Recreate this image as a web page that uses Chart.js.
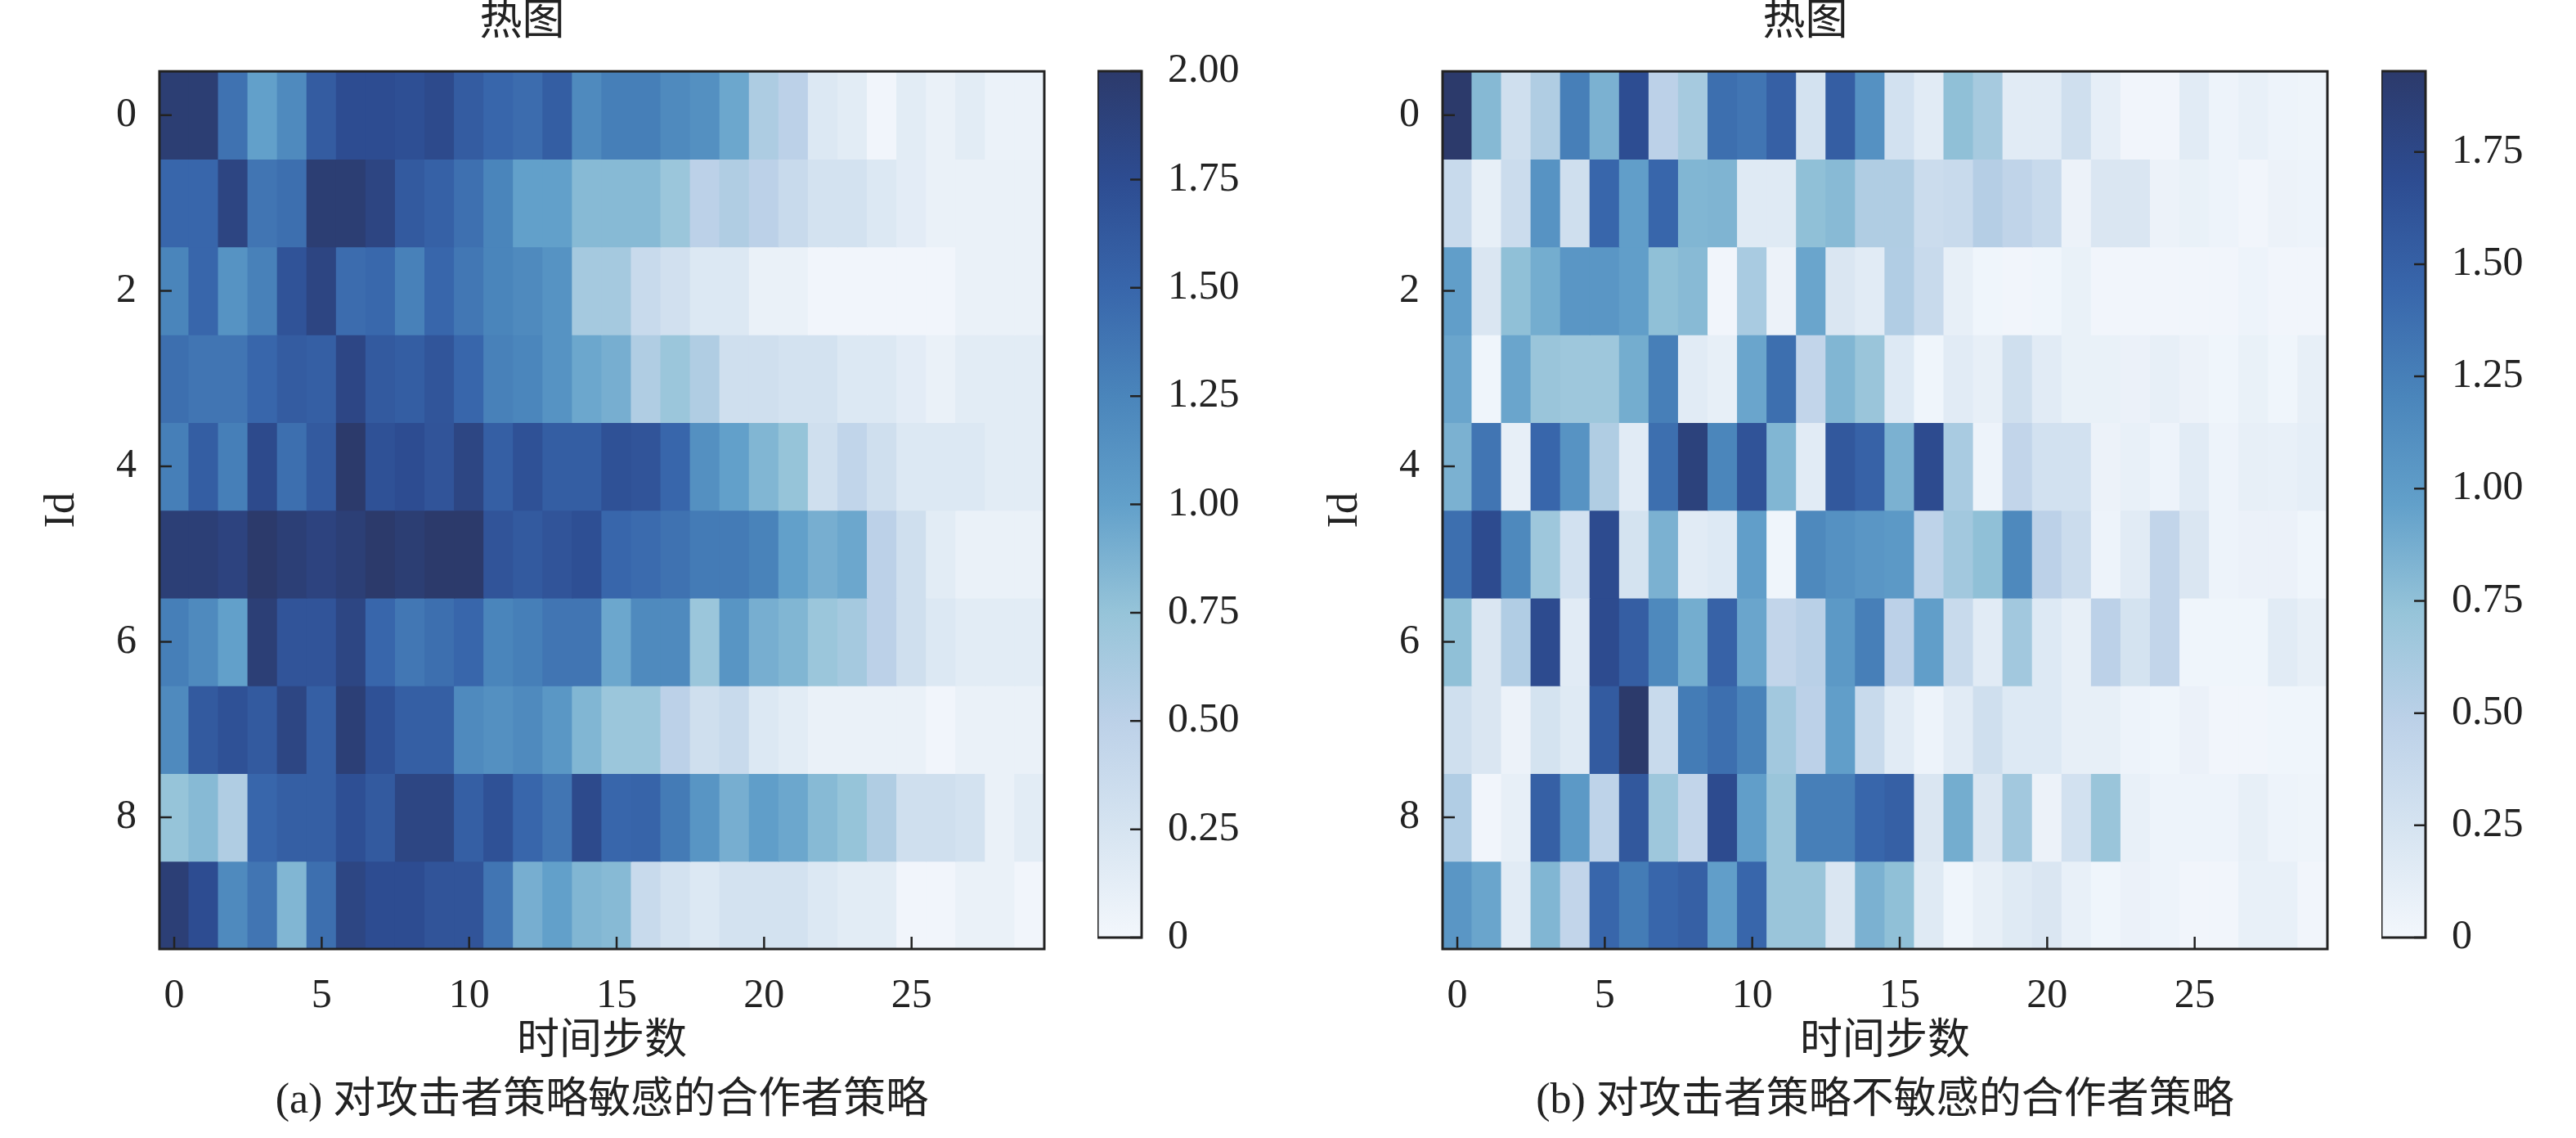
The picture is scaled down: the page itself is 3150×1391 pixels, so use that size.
<!DOCTYPE html>
<html lang="zh">
<head>
    <meta charset="UTF-8">
    <title>热图</title>
    <script src="https://cdn.jsdelivr.net/npm/chart.js"></script>
    <style>
        body { margin: 0; background: #fff; width: 3150px; height: 1391px; position: relative; overflow: hidden; }
        .box { position: absolute; }
        .caption {
            position: absolute; transform: translate(-50%, -50%); white-space: nowrap;
            font-family: "Liberation Serif", "Noto Sans CJK SC", serif; font-size: 52px; color: #222;
        }
    </style>
</head>
<body>
    <!-- (a) sensitive -->
    <div class="box" style="left:0px; top:0px; width:1290px; height:1306px;"><canvas id="heatA"></canvas></div>
    <div class="box" style="left:1342px; top:0px; width:200px; height:1200px;"><canvas id="barA"></canvas></div>
    <div class="caption" style="left:736px; top:1337px;">(a) 对攻击者策略敏感的合作者策略</div>

    <!-- (b) insensitive -->
    <div class="box" style="left:1569px; top:0px; width:1290px; height:1306px;"><canvas id="heatB"></canvas></div>
    <div class="box" style="left:2912px; top:0px; width:200px; height:1200px;"><canvas id="barB"></canvas></div>
    <div class="caption" style="left:2305px; top:1337px;">(b) 对攻击者策略不敏感的合作者策略</div>

    <script>
        // tick labels
        let xTicks = [0, 5, 10, 15, 20, 25];
        let yTicks = [0, 2, 4, 6, 8];
        let barTicksA = [0, 0.25, 0.5, 0.75, 1, 1.25, 1.5, 1.75, 2];
        let barTicksB = [0, 0.25, 0.5, 0.75, 1, 1.25, 1.5, 1.75];
        let vmaxA = 2.0;
        let vmaxB = 1.93;

        // (a) rows = Id 0..9, columns = time step 0..29
        let sensitive = [
            [1.95,1.95,1.40,1.00,1.20,1.60,1.75,1.75,1.72,1.78,1.60,1.50,1.45,1.58,1.20,1.30,1.30,1.20,1.15,0.95,0.60,0.50,0.20,0.15,0.02,0.15,0.08,0.15,0.07,0.07],
            [1.50,1.50,1.85,1.38,1.43,1.95,1.95,1.85,1.62,1.55,1.42,1.25,1.00,1.00,0.82,0.82,0.82,0.72,0.50,0.58,0.50,0.38,0.28,0.28,0.20,0.14,0.08,0.08,0.08,0.08],
            [1.25,1.50,1.12,1.28,1.68,1.85,1.45,1.48,1.28,1.50,1.36,1.25,1.20,1.12,0.65,0.65,0.38,0.30,0.20,0.20,0.08,0.08,0.02,0.02,0.02,0.02,0.02,0.08,0.08,0.08],
            [1.43,1.38,1.38,1.50,1.60,1.57,1.83,1.62,1.58,1.66,1.50,1.28,1.24,1.12,0.95,0.90,0.58,0.72,0.58,0.32,0.32,0.28,0.28,0.20,0.20,0.14,0.08,0.15,0.15,0.15],
            [1.30,1.58,1.30,1.78,1.43,1.62,2.00,1.70,1.75,1.67,1.84,1.57,1.70,1.58,1.58,1.70,1.67,1.50,1.15,1.00,0.85,0.75,0.32,0.45,0.32,0.20,0.20,0.20,0.15,0.15],
            [1.93,1.93,1.87,2.00,1.93,1.87,1.93,2.00,1.95,2.00,2.00,1.67,1.62,1.67,1.72,1.50,1.46,1.40,1.33,1.33,1.27,1.00,0.90,0.95,0.50,0.32,0.15,0.08,0.08,0.08],
            [1.30,1.20,1.00,1.93,1.67,1.67,1.84,1.50,1.36,1.43,1.50,1.25,1.30,1.38,1.38,0.95,1.20,1.20,0.72,1.10,0.90,0.85,0.72,0.65,0.50,0.32,0.20,0.15,0.15,0.15],
            [1.20,1.62,1.70,1.62,1.84,1.57,1.93,1.70,1.57,1.57,1.20,1.15,1.20,1.08,0.85,0.72,0.72,0.50,0.32,0.38,0.20,0.15,0.08,0.08,0.08,0.08,0.02,0.08,0.08,0.08],
            [0.75,0.82,0.58,1.50,1.57,1.57,1.72,1.62,1.84,1.84,1.57,1.70,1.50,1.38,1.78,1.50,1.52,1.33,1.10,0.90,1.02,0.95,0.82,0.75,0.58,0.32,0.32,0.28,0.08,0.15],
            [1.93,1.75,1.20,1.38,0.85,1.43,1.84,1.75,1.75,1.67,1.67,1.38,0.90,1.00,0.85,0.82,0.38,0.28,0.20,0.28,0.28,0.28,0.20,0.15,0.15,0.02,0.02,0.08,0.08,0.02]
        ];

        // (b) rows = Id 0..9, columns = time step 0..29
        let insensitive = [
            [1.93,0.80,0.31,0.56,1.25,0.85,1.68,0.48,0.62,1.38,1.33,1.50,0.27,1.52,1.10,0.28,0.15,0.75,0.62,0.15,0.15,0.31,0.11,0.02,0.02,0.15,0.05,0.09,0.05,0.04],
            [0.37,0.10,0.34,1.08,0.31,1.45,0.98,1.45,0.82,0.83,0.17,0.17,0.75,0.79,0.56,0.56,0.34,0.37,0.53,0.45,0.37,0.06,0.21,0.21,0.06,0.08,0.05,0.02,0.06,0.05],
            [0.98,0.21,0.75,0.88,1.05,1.05,0.98,0.75,0.79,0.02,0.60,0.06,0.93,0.21,0.15,0.55,0.37,0.10,0.03,0.02,0.03,0.08,0.02,0.02,0.02,0.02,0.02,0.05,0.02,0.02],
            [0.93,0.03,0.93,0.70,0.67,0.67,0.88,1.25,0.15,0.10,0.93,1.38,0.43,0.82,0.70,0.18,0.03,0.15,0.10,0.31,0.15,0.08,0.08,0.07,0.10,0.06,0.03,0.08,0.03,0.10],
            [0.85,1.33,0.10,1.45,1.08,0.56,0.15,1.38,1.82,1.20,1.62,0.82,0.15,1.58,1.48,0.85,1.70,0.60,0.05,0.43,0.28,0.28,0.06,0.09,0.05,0.15,0.05,0.10,0.09,0.12],
            [1.38,1.70,1.17,0.67,0.28,1.70,0.26,0.85,0.15,0.18,0.98,0.03,1.17,1.10,1.05,1.03,0.46,0.65,0.75,1.17,0.48,0.34,0.05,0.15,0.43,0.21,0.05,0.07,0.07,0.03],
            [0.75,0.21,0.55,1.70,0.15,1.70,1.52,1.17,0.88,1.48,0.93,0.43,0.50,1.03,1.25,0.48,0.98,0.37,0.15,0.65,0.18,0.10,0.48,0.26,0.43,0.03,0.03,0.03,0.15,0.10],
            [0.31,0.21,0.06,0.26,0.17,1.55,1.93,0.37,1.28,1.38,1.22,0.65,0.48,0.98,0.37,0.15,0.05,0.15,0.31,0.18,0.18,0.10,0.10,0.05,0.03,0.07,0.02,0.02,0.03,0.03],
            [0.55,0.02,0.10,1.50,1.03,0.46,1.58,0.67,0.43,1.70,0.98,0.70,1.25,1.25,1.45,1.50,0.21,0.88,0.21,0.65,0.06,0.28,0.70,0.09,0.05,0.05,0.05,0.10,0.05,0.04],
            [1.05,0.93,0.15,0.82,0.43,1.45,1.28,1.45,1.50,0.98,1.45,0.70,0.70,0.21,0.85,0.75,0.17,0.03,0.10,0.17,0.21,0.09,0.03,0.07,0.05,0.02,0.02,0.09,0.09,0.02]
        ];

        // Blues-like colour map sampled from the colour bar, light -> dark
        let cmapStops = [
            [243,247,252],[214,228,241],[188,209,232],[150,196,217],[98,160,202],
            [74,133,187],[56,102,171],[45,76,145],[44,58,107]
        ];

        function cmap(t) {
            t = Math.min(1, Math.max(0, t));
            let p = t * (cmapStops.length - 1);
            let i = Math.min(Math.floor(p), cmapStops.length - 2);
            let f = p - i;
            let a = cmapStops[i], b = cmapStops[i + 1];
            let c = a.map((v, k) => Math.round(v + (b[k] - v) * f));
            return 'rgb(' + c.join(',') + ')';
        }

        Chart.defaults.font.family = '"Liberation Serif", "Noto Sans CJK SC", serif';
        Chart.defaults.font.size = 50;
        Chart.defaults.color = '#222';

        // black frame round the plot area plus matplotlib style inward ticks
        let framePlugin = {
            id: 'frame',
            afterDraw(chart, args, opts) {
                let ctx = chart.ctx, a = chart.chartArea;
                ctx.save();
                ctx.strokeStyle = '#222';
                ctx.lineWidth = 2.5;
                ctx.beginPath();
                if (opts.xTicks) {
                    chart.scales.x.ticks.forEach(t => {
                        let px = chart.scales.x.getPixelForValue(t.value);
                        ctx.moveTo(px, a.bottom);
                        ctx.lineTo(px, a.bottom - 15);
                    });
                }
                if (opts.yTicks) {
                    chart.scales.y.ticks.forEach(t => {
                        let py = chart.scales.y.getPixelForValue(t.value);
                        if (opts.yTicks === 'left') {
                            ctx.moveTo(a.left, py);
                            ctx.lineTo(a.left + 15, py);
                        } else {
                            ctx.moveTo(a.right, py);
                            ctx.lineTo(a.right - 14, py);
                        }
                    });
                }
                ctx.stroke();
                ctx.lineWidth = 3;
                ctx.strokeRect(a.left, a.top, a.right - a.left, a.bottom - a.top);
                ctx.restore();
            }
        };

        function makeHeatmap(id, values, vmax) {
            // one floating-bar dataset per row, one bar per time step
            let datasets = values.map((row, r) => ({
                data: row.map((v, c) => ({ x: c, y: [r - 0.5, r + 0.5] })),
                backgroundColor: row.map(v => cmap(v / vmax)),
                borderWidth: 0,
                grouped: false,
                barPercentage: 1,
                categoryPercentage: 1,
                inflateAmount: 0.6
            }));

            return new Chart(document.getElementById(id), {
                type: 'bar',
                data: { datasets: datasets },
                options: {
                    responsive: true,
                    maintainAspectRatio: false,
                    animation: false,
                    layout: { padding: { left: 0, right: 13, top: 0, bottom: 0 } },
                    plugins: {
                        legend: { display: false },
                        tooltip: { enabled: false },
                        title: {
                            display: true, text: '热图', color: '#222',
                            font: { size: 52, weight: 'normal', lineHeight: 1.1 },
                            padding: { top: 0, bottom: 30 }
                        },
                        frame: { xTicks: true, yTicks: 'left' }
                    },
                    scales: {
                        x: {
                            type: 'linear', min: -0.5, max: 29.5, offset: false,
                            grid: { display: false }, border: { display: false },
                            afterBuildTicks: s => { s.ticks = xTicks.map(v => ({ value: v })); },
                            afterFit: s => { s.height = 146; },
                            ticks: { padding: 20, maxRotation: 0, autoSkip: false, callback: v => v },
                            title: { display: true, text: '时间步数', font: { size: 52 }, padding: { top: 0, bottom: 0 } }
                        },
                        y: {
                            type: 'linear', reverse: true, min: -0.5, max: 9.5,
                            grid: { display: false }, border: { display: false },
                            afterBuildTicks: s => { s.ticks = yTicks.map(v => ({ value: v })); },
                            afterFit: s => { s.width = 195; },
                            ticks: { padding: 20, callback: v => v },
                            title: { display: true, text: 'Id', font: { size: 52 }, padding: { top: 45, bottom: 0 } }
                        }
                    }
                },
                plugins: [framePlugin]
            });
        }

        function makeColorbar(id, vmax, ticks) {
            return new Chart(document.getElementById(id), {
                type: 'bar',
                data: {
                    labels: [''],
                    datasets: [{
                        data: [[0, vmax]],
                        backgroundColor: context => {
                            let a = context.chart.chartArea;
                            if (!a) return cmap(0.5);
                            let g = context.chart.ctx.createLinearGradient(0, a.bottom, 0, a.top);
                            cmapStops.forEach((s, i) => g.addColorStop(i / (cmapStops.length - 1), 'rgb(' + s.join(',') + ')'));
                            return g;
                        },
                        borderWidth: 0,
                        barPercentage: 1,
                        categoryPercentage: 1
                    }]
                },
                options: {
                    responsive: true,
                    maintainAspectRatio: false,
                    animation: false,
                    layout: { padding: { left: 0, right: 0, top: 87, bottom: 40 } },
                    plugins: {
                        legend: { display: false },
                        tooltip: { enabled: false },
                        frame: { xTicks: false, yTicks: 'right' }
                    },
                    scales: {
                        x: { display: false },
                        y: {
                            position: 'right', min: 0, max: vmax,
                            grid: { display: false }, border: { display: false },
                            afterBuildTicks: s => { s.ticks = ticks.map(v => ({ value: v })); },
                            afterFit: s => { s.width = 146; },
                            ticks: { padding: 24, callback: v => (v === 0 ? '0' : v.toFixed(2)) }
                        }
                    }
                },
                plugins: [framePlugin]
            });
        }

        makeHeatmap('heatA', sensitive, vmaxA);
        makeColorbar('barA', vmaxA, barTicksA);
        makeHeatmap('heatB', insensitive, vmaxB);
        makeColorbar('barB', vmaxB, barTicksB);
    </script>
</body>
</html>
